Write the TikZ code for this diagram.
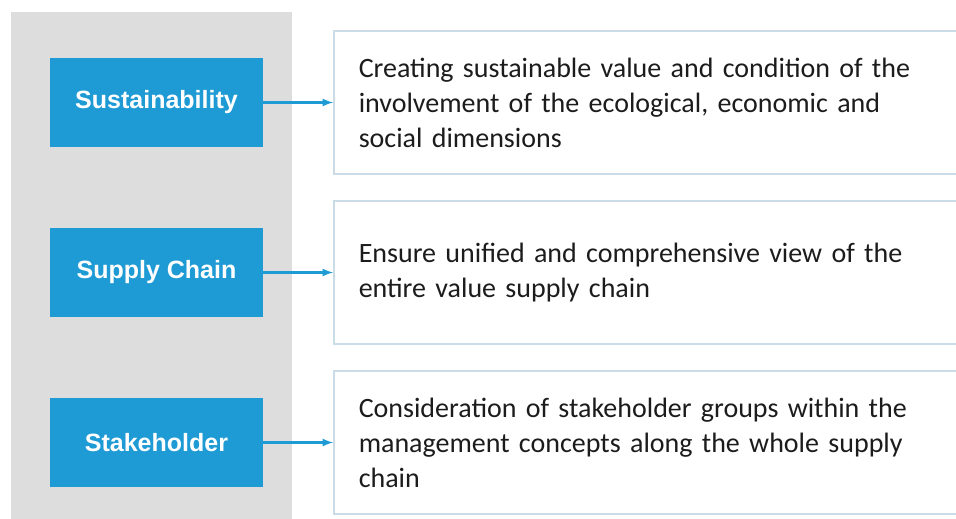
\documentclass[tikz,border=0pt]{standalone}
\usepackage{fontspec}
\setmainfont{Carlito}
\newfontfamily\keyfont{Liberation Sans}
\definecolor{keyblue}{HTML}{1E9AD5}
\definecolor{panelgray}{HTML}{DDDDDD}
\definecolor{boxline}{HTML}{C9DCE8}
\definecolor{textdark}{HTML}{1C1C1C}
\begin{document}
\begin{tikzpicture}[x=1pt,y=1pt,
		keybox/.style={rectangle,fill=keyblue,text=white,minimum width=213pt,
			minimum height=89pt,font=\keyfont\bfseries\fontsize{25}{30}\selectfont},
		textbox/.style={rectangle,draw=boxline,line width=1.5pt,fill=white,anchor=west,
			minimum height=143pt,text width=580pt,inner xsep=25pt,align=left,
			text=textdark,font=\fontsize{28}{35}\selectfont}
		]
		\useasboundingbox (0,0) rectangle (956,-519);
		\fill[panelgray] (11,-12) rectangle (292,-519);
		\node[keybox](K1) at (156.5,-102.5){Sustainability};
		\node[keybox, below of = K1, node distance = 170pt](K2){Supply Chain};
		\node[keybox, below of = K2, node distance = 170pt](K3){Stakeholder};
		\node[textbox](T1) at (333,-102.5){Creating sustainable value and condition of the\\
			involvement of the ecological, economic and\\ social dimensions};
		\node[textbox](T2) at (333,-272.5){Ensure unified and comprehensive view of the\\
			entire value supply chain};
		\node[textbox](T3) at (333,-442.5){Consideration of stakeholder groups within the\\
			management concepts along the whole supply\\ chain};
		\draw[->, >=latex, keyblue, line width=2.5pt] (K1) -- (T1.west);
		\draw[->, >=latex, keyblue, line width=2.5pt] (K2) -- (T2.west);
		\draw[->, >=latex, keyblue, line width=2.5pt] (K3) -- (T3.west);
	\end{tikzpicture}
\end{document}
